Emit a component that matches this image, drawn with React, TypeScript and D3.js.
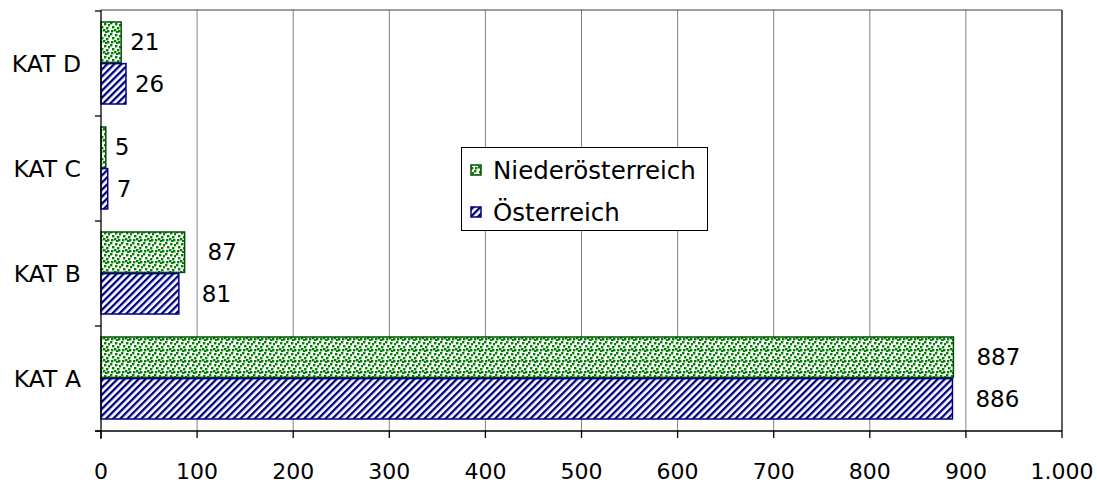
import React from "react";
import * as d3 from "d3";

const categories = ["KAT A", "KAT B", "KAT C", "KAT D"];
const seriesNames = ["Niederösterreich", "Österreich"];
const niederoesterreich = [887, 87, 5, 21];
const oesterreich = [886, 81, 7, 26];
const xTicks = [0, 100, 200, 300, 400, 500, 600, 700, 800, 900, 1000];
const xTickLabels = ["0", "100", "200", "300", "400", "500", "600", "700", "800", "900", "1.000"];

const W = 1097;
const H = 484;
const left = 101;
const right = 1062;
const top = 11;
const bottom = 431;
const FONT = "'DejaVu Sans', sans-serif";

export default function App() {
  const x = d3.scaleLinear().domain([0, 1000]).range([left, right]);
  const y = d3
    .scaleBand<string>()
    .domain([...categories].reverse())
    .range([top, bottom])
    .paddingInner(0)
    .paddingOuter(0);
  const band = y.bandwidth();
  const inner = d3
    .scaleBand<number>()
    .domain([0, 1])
    .range([11, band - 12])
    .paddingInner(0.03);
  const bh = inner.bandwidth();
  const series = [
    { name: seriesNames[0], values: niederoesterreich, fill: "url(#dots)", stroke: "#004d00" },
    { name: seriesNames[1], values: oesterreich, fill: "url(#stripes)", stroke: "#000080" },
  ];
  const catTicks = d3.range(categories.length + 1).map((i) => top + i * band);

  const dotPts: [number, number][] = [
    [0, 0], [5, 1], [2, 4], [7, 5], [1, 8], [6, 9], [9, 2], [4, 7], [8, 8],
  ];

  return (
    <svg
      width={W}
      height={H}
      style={{ position: "fixed", left: 0, top: 0, background: "#fff" }}
      fontFamily={FONT}
    >
      <defs>
        <pattern id="dots" width="11" height="11" patternUnits="userSpaceOnUse">
          <rect width="11" height="11" fill="#fff" />
          {dotPts.map(([px, py], i) => (
            <rect key={i} x={px} y={py} width="2.4" height="2.4" fill="#008000" />
          ))}
        </pattern>
        <pattern
          id="stripes"
          width="5"
          height="5"
          patternUnits="userSpaceOnUse"
          patternTransform="rotate(45)"
        >
          <rect width="5" height="5" fill="#fff" />
          <rect width="2.3" height="5" fill="#000080" />
        </pattern>
      </defs>

      {/* gridlines */}
      {xTicks.slice(1).map((t) => (
        <line key={t} x1={x(t)} x2={x(t)} y1={top - 1} y2={bottom} stroke="#808080" strokeWidth={1} />
      ))}
      {/* plot frame */}
      <line x1={left} x2={right} y1={top - 1} y2={top - 1} stroke="#404040" strokeWidth={1.2} />
      <line x1={right} x2={right} y1={top - 1} y2={bottom} stroke="#404040" strokeWidth={1.5} />

      {/* bars */}
      {categories.map((c, ci) =>
        series.map((s, si) => {
          const v = s.values[ci];
          const yy = (y(c) as number) + (inner(si) as number);
          return (
            <g key={c + si}>
              <rect
                x={x(0)}
                y={yy}
                width={x(v) - x(0)}
                height={bh}
                fill={s.fill}
                stroke={s.stroke}
                strokeWidth={1.5}
              />
              <text
                x={x(v) + (v > 50 ? 23 : 9)}
                y={yy + bh / 2}
                dominantBaseline="central"
                fontSize={23}
                fill="#000"
              >
                {v}
              </text>
            </g>
          );
        })
      )}

      {/* axes */}
      <line x1={left} x2={left} y1={top - 1} y2={bottom + 8} stroke="#000" strokeWidth={1.3} />
      <line x1={left - 6} x2={right} y1={bottom} y2={bottom} stroke="#000" strokeWidth={1.3} />
      {catTicks.map((t, i) => (
        <line key={i} x1={left - 6} x2={left} y1={t} y2={t} stroke="#000" strokeWidth={1.3} />
      ))}
      {xTicks.map((t) => (
        <line key={t} x1={x(t)} x2={x(t)} y1={bottom} y2={bottom + 7} stroke="#000" strokeWidth={1.3} />
      ))}
      {xTicks.map((t, i) => (
        <text key={t} x={x(t)} y={479} textAnchor="middle" fontSize={22} fill="#000">
          {xTickLabels[i]}
        </text>
      ))}
      {categories.map((c) => (
        <text
          key={c}
          x={81}
          y={(y(c) as number) + band / 2}
          textAnchor="end"
          dominantBaseline="central"
          fontSize={23.5}
          fill="#000"
        >
          {c}
        </text>
      ))}

      {/* legend */}
      <g>
        <rect x={461.5} y={147.5} width={246} height={83} fill="#fff" stroke="#000" strokeWidth={1} />
        {series.map((s, i) => (
          <g key={s.name} transform={`translate(474, ${170 + i * 42})`}>
            <rect x={-3} y={-5} width={10} height={10} fill={s.fill} stroke={s.stroke} strokeWidth={1.5} />
            <text x={19} y={0} dominantBaseline="central" fontSize={24.5} fill="#000">
              {s.name}
            </text>
          </g>
        ))}
      </g>
    </svg>
  );
}
